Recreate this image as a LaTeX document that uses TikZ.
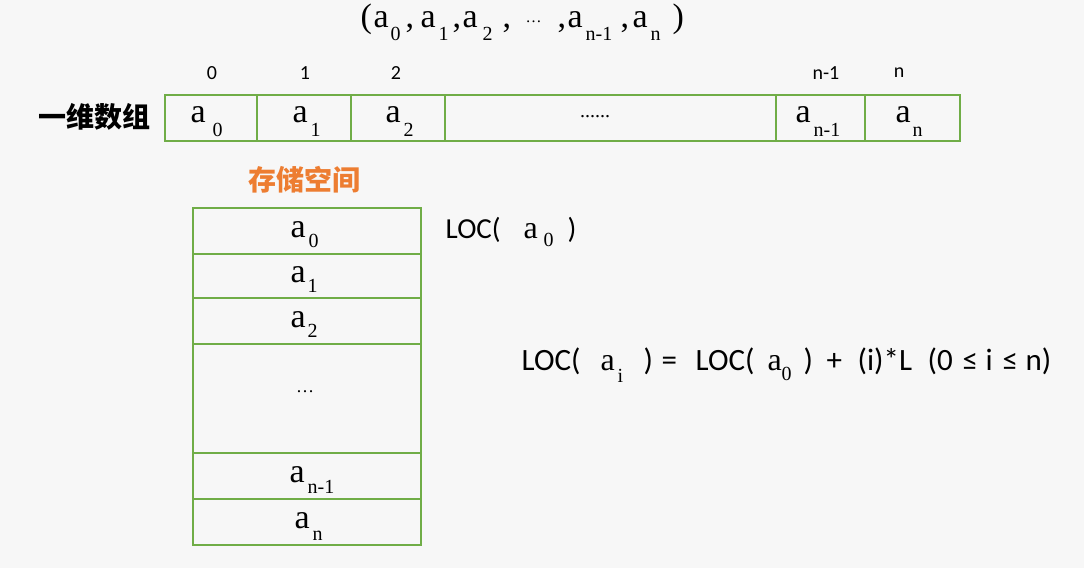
\documentclass[tikz,border=0pt]{standalone}
\usepackage{fontspec}
\setmainfont{Liberation Serif}
\newfontfamily\calib{Carlito}
\newfontfamily\cjk{Noto Sans CJK SC}
\definecolor{cellgreen}{RGB}{112,173,71}
\definecolor{titleorange}{RGB}{237,125,49}
\definecolor{bg}{RGB}{247,247,247}
% place #2 at horizontal offset #1 (pt) from the node's base west
\newcommand{\putat}[2]{\rlap{\hspace{#1pt}#2}}
% subscript: offset, lowering, text
\newcommand{\subx}[3]{\putat{#1}{\raisebox{-#2pt}{\rmfamily\fontsize{20}{20}\selectfont #3}}}
\newcommand{\ela}[1]{\putat{#1}{\rmfamily\fontsize{34}{34}\selectfont a}}
\newcommand{\fla}[1]{\putat{#1}{\rmfamily\fontsize{32}{32}\selectfont a}}
\tikzset{
  cell/.style={draw=cellgreen, line width=2pt, inner sep=0pt, anchor=center},
  val/.style={inner sep=0pt, anchor=base west},
  idx/.style={font=\calib\fontsize{20}{20}\selectfont, inner sep=0pt},
  loc/.style={font=\calib, inner sep=0pt, anchor=base west},
}
\begin{document}
\begin{tikzpicture}[x=1pt,y=-1pt]
\fill[bg] (0,0) rectangle (1084,568);
\useasboundingbox (0,0) rectangle (1084,568);

% top tuple (baseline y=27, starting x=360)
\node[val, font=\fontsize{34}{34}\selectfont] (tuple) at (360,27)
  {\putat{0}{(}\ela{13}\subx{30}{13}{0}\putat{45}{,}%
   \ela{60}\subx{78}{13}{1}\putat{92}{,}%
   \ela{102}\subx{122}{13}{2}\putat{142}{,}%
   \putat{165}{\raisebox{5pt}{\fontsize{16}{16}\selectfont\dots}}\putat{197}{,}%
   \ela{207}\subx{225}{13}{n-1}\putat{260}{,}%
   \ela{272}\subx{290}{13}{n}\putat{312}{)}};

% indices
\node[idx] (i0) at (212,73) {0};
\node[idx] (i1) at (305,73) {1};
\node[idx] (i2) at (396,73) {2};
\node[idx] (in1) at (826,73) {n-1};
\node[idx] (in) at (899,73) {n};

% one-dimensional array
\node[font=\cjk\bfseries\fontsize{28}{28}\selectfont, inner sep=0pt] (lab1) at (94,117) {一维数组};
\node[cell, minimum width=92pt, minimum height=46pt] (c0) at (211,118) {};
\node[cell, minimum width=94pt, minimum height=46pt] (c1) at (304,118) {};
\node[cell, minimum width=94pt, minimum height=46pt] (c2) at (398,118) {};
\node[cell, minimum width=331pt, minimum height=46pt] (cd) at (610.5,118) {};
\node[cell, minimum width=89pt, minimum height=46pt] (cn1) at (820.5,118) {};
\node[cell, minimum width=95pt, minimum height=46pt] (cn) at (912.5,118) {};
\node[val] (v0) at (190,122) {\ela{0}\subx{22}{14}{0}};
\node[val] (v1) at (292,122) {\ela{0}\subx{18}{14}{1}};
\node[val] (v2) at (385,122) {\ela{0}\subx{18}{14}{2}};
\node[inner sep=0pt, font=\fontsize{20}{20}\selectfont] (vd) at (595,117) {......};
\node[val] (vn1) at (795,122) {\ela{0}\subx{18}{14}{n-1}};
\node[val] (vn) at (895,122) {\ela{0}\subx{17}{14}{n}};

% storage
\node[font=\cjk\bfseries\fontsize{28}{28}\selectfont, text=titleorange, inner sep=0pt] (lab2) at (304,180) {存储空间};
\node[cell, minimum width=228pt, minimum height=46pt] (s0) at (307,231) {};
\node[cell, minimum width=228pt, minimum height=44pt] (s1) at (307,276) {};
\node[cell, minimum width=228pt, minimum height=46pt] (s2) at (307,321) {};
\node[cell, minimum width=228pt, minimum height=109pt] (sd) at (307,398.5) {};
\node[cell, minimum width=228pt, minimum height=46pt] (sn1) at (307,476) {};
\node[cell, minimum width=228pt, minimum height=46pt] (sn) at (307,522) {};
\node[val] (w0) at (290,237) {\ela{0}\subx{18}{10}{0}};
\node[val] (w1) at (290,282) {\ela{0}\subx{17}{10}{1}};
\node[val] (w2) at (290,327) {\ela{0}\subx{17}{10}{2}};
\node[inner sep=0pt, font=\fontsize{18}{18}\selectfont] (wd) at (305,392) {\dots};
\node[val] (wn1) at (289,482) {\ela{0}\subx{18}{11}{n-1}};
\node[val] (wn) at (294,528) {\ela{0}\subx{18}{12}{n}};

% formulas
\node[loc, font=\calib\fontsize{29}{29}\selectfont] (loc0) at (445,238)
  {\putat{0}{LOC(}\fla{78}\subx{98}{8}{0}\putat{122}{)}};
\node[loc, font=\calib\fontsize{31}{31}\selectfont] (form) at (521,370)
  {\putat{0}{LOC(}\fla{79}\subx{96}{12}{i}\putat{122}{)}\putat{140}{=}%
   \putat{174}{LOC(}\fla{246}\subx{260}{10}{0}\putat{282}{)}\putat{305}{+}%
   \putat{336}{(i)*L}\putat{406}{(0}\putat{441}{≤}\putat{464}{i}\putat{481}{≤}\putat{504}{n)}};
\end{tikzpicture}
\end{document}
